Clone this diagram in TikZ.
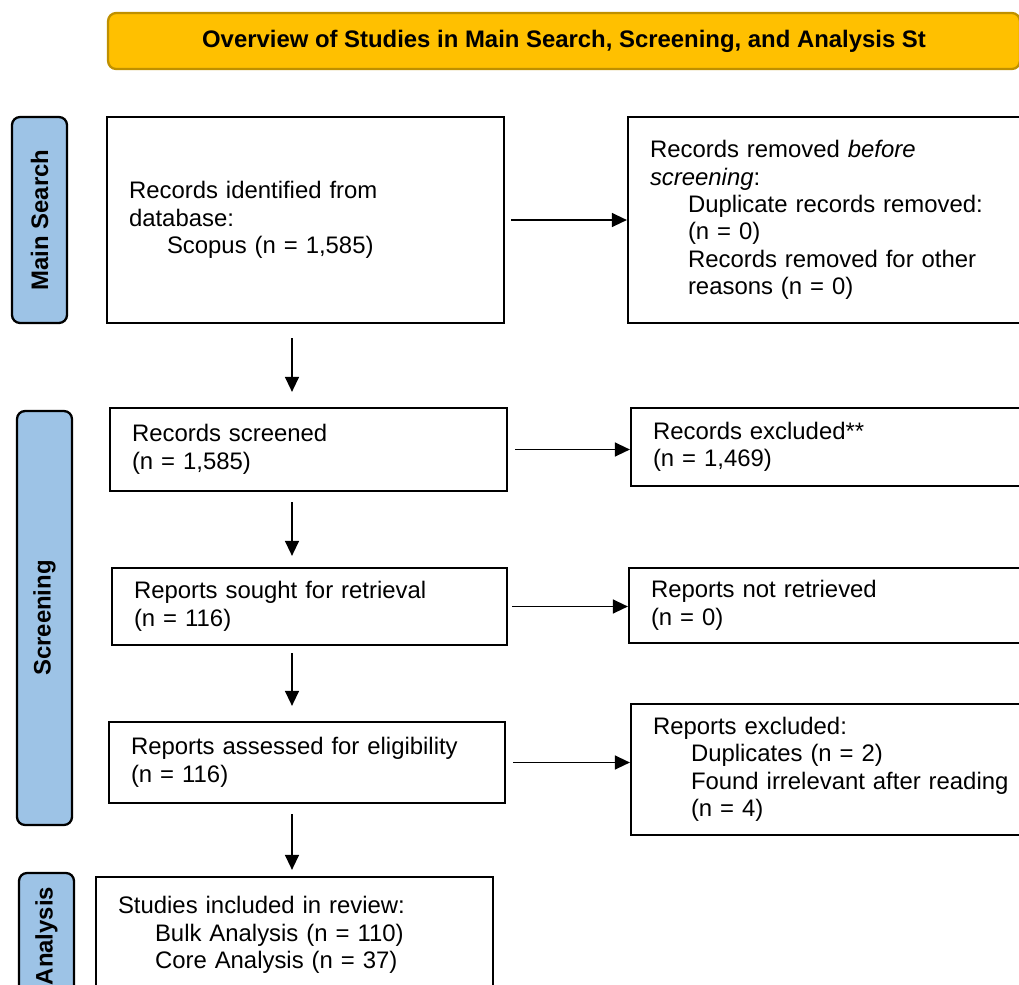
\documentclass[tikz,border=0pt]{standalone}
\usepackage{fontspec}
\setmainfont{Liberation Sans}
\usetikzlibrary{arrows.meta}
\definecolor{titlegold}{HTML}{FFC000}
\definecolor{titleedge}{HTML}{BF9000}
\definecolor{phaseblue}{HTML}{9DC3E6}

\begin{document}
\begin{tikzpicture}
[x=0.02cm,y=-0.02cm,
 font=\fontsize{13.6}{15.6}\selectfont,
 box/.style={draw,line width=1.3pt,align=left,inner xsep=0.44cm,inner ysep=0pt},
 phase/.style={draw,line width=1.3pt,fill=phaseblue,rounded corners=0.16cm,rotate=90,
   minimum height=1.1cm,font=\fontsize{13.6}{15.6}\selectfont\bfseries},
 flow/.style={line width=0.8pt,-{Triangle[length=0.3cm,width=0.28cm]}}]
\useasboundingbox (0,0) rectangle (1019,985);
\clip (0,0) rectangle (1019,985);
% title bar
\node[draw=titleedge,line width=1.3pt,fill=titlegold,rounded corners=0.16cm,minimum width=18.24cm,
  minimum height=1.12cm,font=\fontsize{13.6}{15.6}\selectfont\bfseries](title) at (564,41)
  {Overview of Studies in Main Search, Screening, and Analysis St};
% phases
\node[phase,minimum width=4.12cm](mainsearch) at (39.5,220){Main Search};
\node[phase,minimum width=8.28cm](screening) at (44.5,618){Screening};
\node[phase,minimum width=2.52cm](analysis) at (46.5,936){Analysis};
% left column
\node[box,minimum width=7.94cm,minimum height=4.12cm,text width=7.06cm](ident) at (305.5,220)
  {Records identified from\\database:\\\hspace*{0.76cm}Scopus (n = 1,585)};
\node[box,minimum width=7.94cm,minimum height=1.66cm,text width=7.06cm](screened) at (308.5,449.5)
  {Records screened\\(n = 1,585)};
\node[box,minimum width=7.90cm,minimum height=1.54cm,text width=7.02cm](sought) at (309.5,606.5)
  {Reports sought for retrieval\\(n = 116)};
\node[box,minimum width=7.92cm,minimum height=1.62cm,text width=7.04cm](assessed) at (307,762.5)
  {Reports assessed for eligibility\\(n = 116)};
\node[box,minimum width=7.94cm,minimum height=2.32cm,text width=7.06cm](included) at (294.5,935)
  {Studies included in review:\\\hspace*{0.74cm}Bulk Analysis (n = 110)\\\hspace*{0.74cm}Core Analysis (n = 37)};
% right column
\node[box,minimum width=8.24cm,minimum height=4.12cm,text width=7.36cm](removed) at (834,220)
  {Records removed \textit{before}\\\textit{screening}:\\\hspace*{0.76cm}Duplicate records removed:\\
   \hspace*{0.76cm}(n = 0)\\\hspace*{0.76cm}Records removed for other\\\hspace*{0.76cm}reasons (n = 0)};
\node[box,minimum width=8.18cm,minimum height=1.56cm,text width=7.30cm](excluded) at (835.5,447)
  {Records excluded**\\(n = 1,469)};
\node[box,minimum width=8.22cm,minimum height=1.50cm,text width=7.34cm](notretrieved) at (834.5,605.5)
  {Reports not retrieved\\(n = 0)};
\node[box,minimum width=8.18cm,minimum height=2.62cm,text width=7.30cm](reportsexcl) at (835.5,769.5)
  {Reports excluded:\\\hspace*{0.76cm}Duplicates (n = 2)\\\hspace*{0.76cm}Found irrelevant after reading\\
   \hspace*{0.76cm}(n = 4)};
% arrows
\coordinate (spine) at (292,0);
\draw[flow] ([xshift=0.12cm]ident.east) -- (removed.west);
\draw[flow] ([xshift=0.14cm]screened.east) -- (screened.east -| excluded.west);
\draw[flow] ([xshift=0.08cm]sought.east) -- (sought.east -| notretrieved.west);
\draw[flow] ([xshift=0.14cm]assessed.east) -- (assessed.east -| reportsexcl.west);
\draw[flow] ([yshift=-0.28cm]ident.south -| spine) -- ([yshift=0.3cm]screened.north -| spine);
\draw[flow] ([yshift=-0.2cm]screened.south -| spine) -- ([yshift=0.22cm]sought.north -| spine);
\draw[flow] ([yshift=-0.14cm]sought.south -| spine) -- ([yshift=0.3cm]assessed.north -| spine);
\draw[flow] ([yshift=-0.2cm]assessed.south -| spine) -- ([yshift=0.12cm]included.north -| spine);
\end{tikzpicture}
\end{document}
